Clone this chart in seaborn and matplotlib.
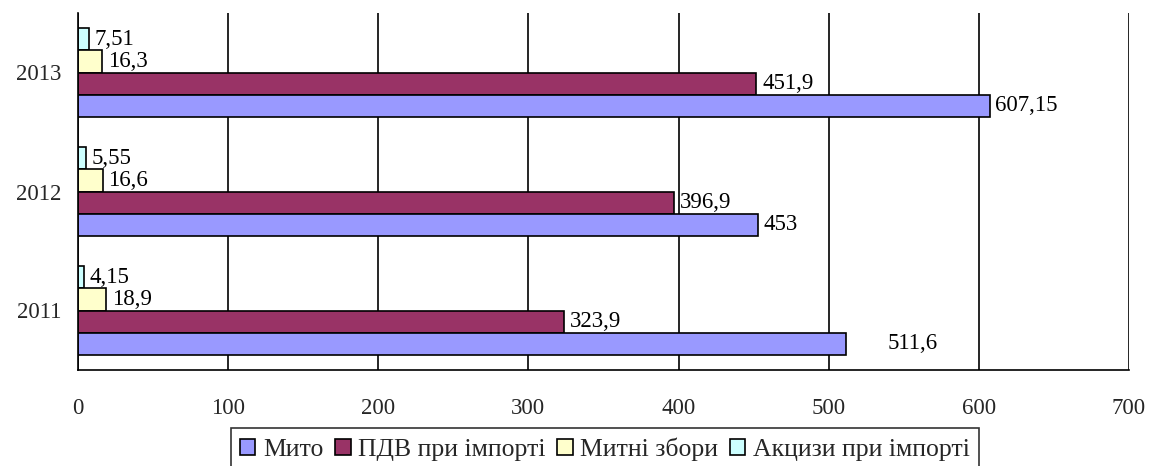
import matplotlib
matplotlib.use("Agg")
import matplotlib.pyplot as plt
import seaborn as sns
import pandas as pd
from matplotlib.patches import Patch
from matplotlib.ticker import FixedLocator

years = ["2013", "2012", "2011"]
series = ["Мито", "ПДВ при імпорті", "Митні збори", "Акцизи при імпорті"]
mito = [607.15, 453, 511.6]
pdv = [451.9, 396.9, 323.9]
zbory = [16.3, 16.6, 18.9]
akcyzy = [7.51, 5.55, 4.15]
colors = {"Мито": "#9999FF", "ПДВ при імпорті": "#993366",
          "Митні збори": "#FFFFCC", "Акцизи при імпорті": "#CCFFFF"}
xticks = [0, 100, 200, 300, 400, 500, 600, 700]

rows = []
for name, vals in zip(series, [mito, pdv, zbory, akcyzy]):
    for y, v in zip(years, vals):
        rows.append({"year": y, "series": name, "value": v})
df = pd.DataFrame(rows)

sns.set_style("white")
plt.rcParams["font.family"] = ["Liberation Serif", "DejaVu Serif"]
FS = 16.5
plt.rcParams["font.size"] = FS

fig = plt.figure(figsize=(11.49, 4.66), dpi=100)
ax = fig.add_axes([78/1149, 1-370/466, (1129-78)/1149, (370-13)/466])

hue_order = series[::-1]
sns.barplot(data=df, y="year", x="value", hue="series", order=years,
            hue_order=hue_order, palette=colors, saturation=1, orient="h", width=0.74,
            edgecolor="black", linewidth=1.2, ax=ax, legend=False, errorbar=None)

for cont in ax.containers:
    for p in cont:
        w = p.get_width()
        lab = f"{w:g}".replace(".", ",")
        pad = 30 if abs(w - 511.6) < 1e-6 else 4
        ax.annotate(lab, (w, p.get_y() + p.get_height()/2), xytext=(pad, 0),
                    textcoords="offset points", va="center", ha="left",
                    fontsize=FS, color="black")

ax.set_xlim(0, 700)
ax.set_ylim(2.5, -0.5)
ax.set_xticks(xticks)
ax.set_xticklabels([str(t) for t in xticks])
ax.set_yticks([0, 1, 2])
ax.set_yticklabels(years)
ax.yaxis.set_minor_locator(FixedLocator([-0.5, 0.5, 1.5, 2.5]))
ax.tick_params(axis="y", which="major", length=0, pad=12, labelsize=FS)
ax.tick_params(axis="y", which="minor", length=6, width=1.2, direction="out", color="black")
ax.tick_params(axis="x", which="major", length=6, width=1.2, direction="out", pad=14,
               color="black", labelsize=FS)
ax.set_xlabel("")
ax.set_ylabel("")
ax.grid(axis="x", color="black", linewidth=1.2)
ax.set_axisbelow(True)
for s in ["top", "right"]:
    ax.spines[s].set_visible(False)
for s in ["left", "bottom"]:
    ax.spines[s].set_color("black")
    ax.spines[s].set_linewidth(1.2)

LFS = 18.5
handles = [Patch(facecolor=colors[s], edgecolor="black", linewidth=1.2) for s in series]
leg = fig.legend(handles, series, loc="center", bbox_to_anchor=(605/1149, 1-449/466),
                 ncol=4, frameon=True, fancybox=False, edgecolor="black",
                 fontsize=LFS, handlelength=0.6, handleheight=0.6,
                 handletextpad=0.3, columnspacing=0.45, borderpad=0.35,
                 borderaxespad=0)
leg.get_frame().set_linewidth(1.2)

fig.savefig("out.png", dpi=100)
